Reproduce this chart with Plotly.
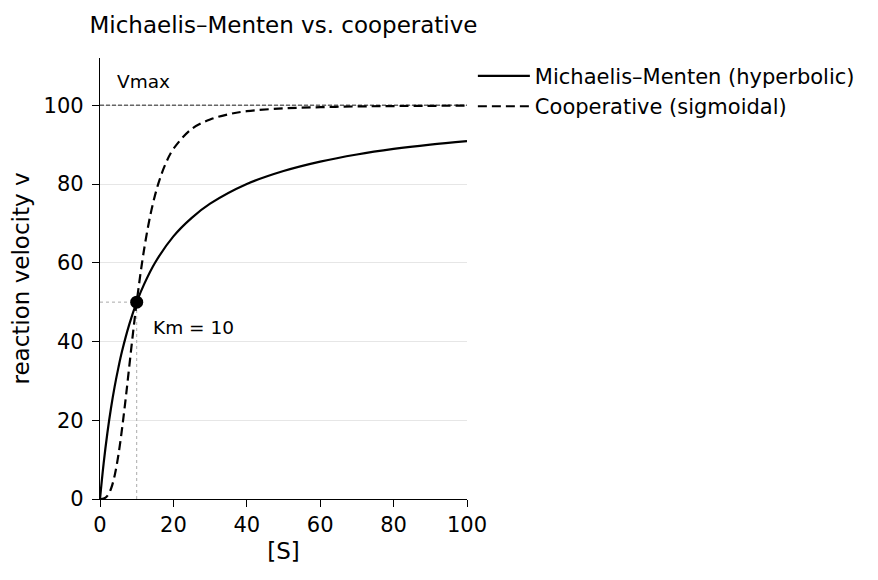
import plotly.graph_objects as go

# substrate concentration [S] and velocities
s_mm = [0, 1, 2, 3, 4, 5, 6, 8, 10, 12, 15, 20, 25, 30, 40, 50, 60, 70, 80, 90, 100]
v_mm = [0, 9.1, 16.7, 23.1, 28.6, 33.3, 37.5, 44.4, 50, 54.5, 60, 66.7, 71.4, 75,
        80, 83.3, 85.7, 87.5, 88.9, 90, 90.9]

s_coop = [0, 1, 2, 3, 4, 5, 6, 7, 8, 9, 10, 12, 14, 16, 18, 20, 25, 30, 35, 40, 50,
          60, 70, 80, 100]
v_coop = [0, 0.1, 0.8, 2.6, 6.0, 11.1, 17.8, 25.5, 33.9, 42.2, 50, 63.3, 73.3, 80.4,
          85.4, 88.9, 94.0, 96.4, 97.7, 98.5, 99.2, 99.5, 99.7, 99.8, 99.9]

vmax = 100
km = 10
half_v = 50
x_ticks = [0, 20, 40, 60, 80, 100]
y_ticks = [0, 20, 40, 60, 80, 100]

font = "DejaVu Sans"

fig = go.Figure()

# guide lines
fig.add_trace(go.Scatter(x=[0, 100], y=[vmax, vmax], mode="lines",
                         line=dict(color="#666666", width=1.3, dash="4px,2px"),
                         showlegend=False, hoverinfo="skip"))
fig.add_trace(go.Scatter(x=[0, km], y=[half_v, half_v], mode="lines",
                         line=dict(color="#aaaaaa", width=1, dash="dot"),
                         showlegend=False, hoverinfo="skip"))
fig.add_trace(go.Scatter(x=[km, km], y=[0, half_v], mode="lines",
                         line=dict(color="#aaaaaa", width=1, dash="dot"),
                         showlegend=False, hoverinfo="skip"))

fig.add_trace(go.Scatter(x=s_mm, y=v_mm, mode="lines", line_shape="spline",
                         name="Michaelis–Menten (hyperbolic)",
                         line=dict(color="black", width=2.2)))
fig.add_trace(go.Scatter(x=s_coop, y=v_coop, mode="lines", line_shape="spline",
                         name="Cooperative (sigmoidal)",
                         line=dict(color="black", width=2.2, dash="9px,5px")))

fig.add_trace(go.Scatter(x=[km], y=[half_v], mode="markers",
                         marker=dict(color="black", size=13),
                         showlegend=False))

fig.add_annotation(x=4, y=106, text="Vmax", showarrow=False, xanchor="left",
                   font=dict(size=18.5, color="black"))
fig.add_annotation(x=14, y=43.5, text="Km = 10", showarrow=False, xanchor="left",
                   font=dict(size=18.5, color="black"))

fig.update_layout(
    width=878, height=580,
    margin=dict(l=92, r=419, t=50, b=89),
    plot_bgcolor="white", paper_bgcolor="white",
    font=dict(family=font, size=21, color="black"),
    title=dict(text="Michaelis–Menten vs. cooperative", x=0.5, xref="paper",
               xanchor="center", y=1 - 17 / 580, yanchor="middle",
               font=dict(size=23)),
    legend=dict(x=1.016, y=1.005, xanchor="left", yanchor="top", itemwidth=52,
                bgcolor="rgba(0,0,0,0)", font=dict(size=21)),
)
fig.update_xaxes(range=[0, 100], tickvals=x_ticks, showgrid=False,
                 showline=True, linecolor="black", linewidth=1.2,
                 ticks="outside", ticklen=7, tickcolor="black",
                 zeroline=False, title=dict(text="[S]", font=dict(size=23), standoff=6))
fig.update_yaxes(range=[0, 112], tickvals=y_ticks, showgrid=True,
                 gridcolor="#e6e6e6", gridwidth=1,
                 showline=True, linecolor="black", linewidth=1.2,
                 ticks="outside", ticklen=7, tickcolor="black",
                 ticklabelstandoff=4,
                 zeroline=False,
                 title=dict(text="reaction velocity v", font=dict(size=23), standoff=8))

fig.write_html("out.html")
